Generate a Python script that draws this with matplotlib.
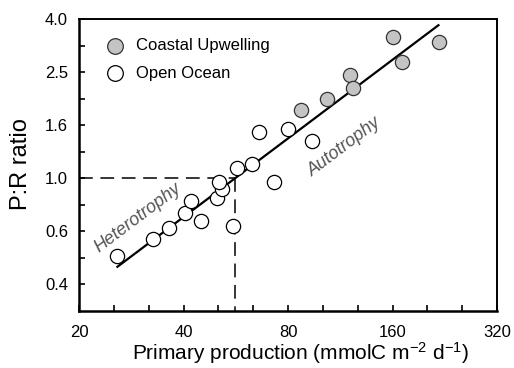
import numpy as np
import matplotlib
matplotlib.use('Agg')
import matplotlib.pyplot as plt

plt.rcParams['font.family'] = ['Liberation Sans', 'DejaVu Sans']
plt.rcParams['mathtext.fontset'] = 'custom'
plt.rcParams['mathtext.rm'] = 'Liberation Sans'
plt.rcParams['mathtext.it'] = 'Liberation Sans:italic'

# data
open_pp = [25.7, 32.7, 36.3, 40.4, 42.0, 44.9, 50.0, 51.6, 50.6, 55.5, 57.0, 63.0, 66.0, 72.9, 80.0, 93.8]
open_pr = [0.51, 0.59, 0.65, 0.74, 0.82, 0.69, 0.84, 0.91, 0.97, 0.66, 1.09, 1.13, 1.49, 0.97, 1.53, 1.38]
coastal_pp = [87.2, 103.6, 120.7, 123.1, 160.5, 170.4, 217.8]
coastal_pr = [1.81, 1.99, 2.45, 2.19, 3.41, 2.74, 3.26]

# log-log regression: P:R = (PP / pp_balance) ** fit_slope
fit_slope = 0.984
pp_balance = 56.3
fit_range = [25.8, 217.0]

x_major = [20, 40, 80, 160, 320]
y_major = [0.4, 0.6, 1.0, 1.6, 2.5, 4.0]

fig = plt.figure(figsize=(5.14, 3.68), dpi=100)
ax = fig.add_axes([79 / 514, 1 - 311 / 368, 418 / 514, 292 / 368])
ax.set_xscale('log')
ax.set_yscale('log')
ax.set_xlim(20, 320)
ax.set_ylim(10 ** -0.5, 10 ** 0.6)

# balance lines
ax.plot([20, pp_balance], [1.0, 1.0], color='black', lw=1.1, dashes=(9, 5))
ax.plot([pp_balance, pp_balance], [1.0, 10 ** -0.5], color='black', lw=1.1, dashes=(9, 5))

fx = np.array(fit_range)
ax.plot(fx, (fx / pp_balance) ** fit_slope, color='black', lw=1.6, zorder=2)

ax.scatter(coastal_pp, coastal_pr, s=105, facecolor='#c4c4c4', edgecolor='#333333',
           linewidth=0.9, zorder=3, label='Coastal Upwelling')
ax.scatter(open_pp, open_pr, s=105, facecolor='white', edgecolor='black',
           linewidth=0.9, zorder=3, label='Open Ocean')

ax.text(29.6, 0.71, 'Heterotrophy', rotation=37, rotation_mode='anchor',
        ha='center', va='center', fontsize=13, style='italic', color='#555555')
ax.text(116.7, 1.309, 'Autotrophy', rotation=37, rotation_mode='anchor',
        ha='center', va='center', fontsize=13, style='italic', color='#555555')

# ticks: minor every third of an octave / tenth of a decade
ax.set_xticks([20 * 2 ** (k / 3) for k in range(13)])
ax.set_xticklabels([str(x_major[k // 3]) if k % 3 == 0 else '' for k in range(13)])
ax.set_xticks([], minor=True)
ax.set_yticks([10 ** (k / 10) for k in range(-4, 7)])
ax.set_yticklabels([('%.1f' % y_major[(k + 4) // 2]) if k % 2 == 0 else '' for k in range(-4, 7)])
ax.set_yticks([], minor=True)
ax.tick_params(direction='in', length=4.5, width=1.2, labelsize=12, pad=8)
ax.tick_params(axis='x', pad=10)

for s in ['left', 'bottom']:
    ax.spines[s].set_linewidth(1.8)
for s in ['top', 'right']:
    ax.spines[s].set_linewidth(1.4)

ax.set_xlabel('Primary production (mmolC m$^{-2}$ d$^{-1}$)', fontsize=15, va='top')
ax.xaxis.set_label_coords(0.531, -0.10)
ax.set_ylabel('P:R ratio', fontsize=17)
ax.yaxis.set_label_coords(-0.112, 0.503)

ax.legend(loc='upper left', bbox_to_anchor=(0.0, 1.0), frameon=False, fontsize=12,
          handletextpad=0.25, labelspacing=0.75, borderaxespad=0.75, markerscale=1.1)

fig.savefig('out.png', dpi=100)
